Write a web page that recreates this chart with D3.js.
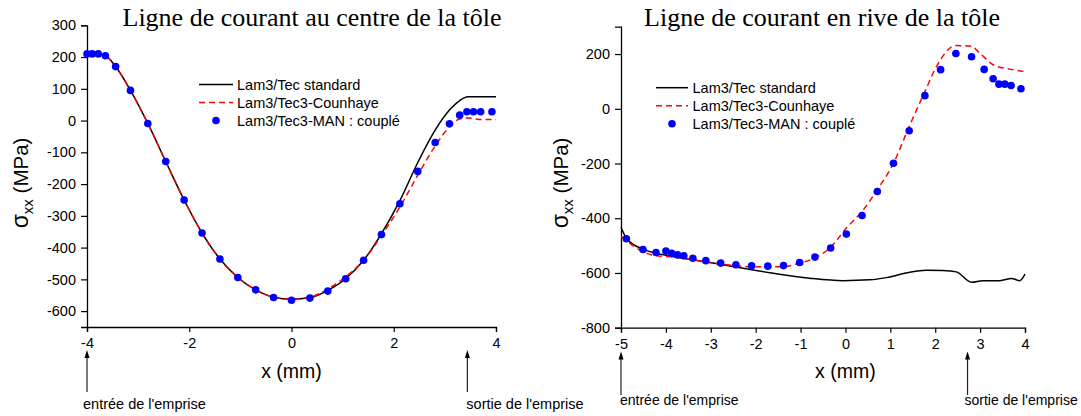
<!DOCTYPE html>
<html><head><meta charset="utf-8">
<script src="https://cdn.jsdelivr.net/npm/d3@7"></script>
<style>
body{margin:0;background:#fff;}
svg{display:block;}
text{font-family:Arial,"Liberation Sans",sans-serif;fill:#000;}
</style></head>
<body>
<svg id="chart" width="1081" height="416"></svg>
<script>
// ---------- Data: left panel (centre) ----------
const titleLeft = "Ligne de courant au centre de la tôle";
const titleRight = "Ligne de courant en rive de la tôle";
const legendLabels = ["Lam3/Tec standard", "Lam3/Tec3-Counhaye", "Lam3/Tec3-MAN : couplé"];

const leftXTicks = [-4, -2, 0, 2, 4];
const leftYTicks = [-600, -500, -400, -300, -200, -100, 0, 100, 200, 300];

const leftLineX   = [-4, -3.9, -3.78, -3.64, -3.44, -3.15, -2.81, -2.46, -2.10, -1.75, -1.40, -1.05, -0.70, -0.35, 0, 0.36, 0.71, 1.06, 1.41, 1.76, 2.12, 2.47, 2.81, 3.09, 3.29, 3.45, 3.7, 4.0];
const leftStandard = [210, 210, 208, 204, 170, 95, -9, -129, -250, -354, -436, -494, -533, -556, -562, -558, -535, -498, -440, -356, -252, -132, -30, 33, 63, 75, 75, 75];
const leftCounhaye = [210, 210, 208, 204, 170, 95, -9, -129, -250, -354, -436, -494, -533, -556, -562, -556, -530, -492, -440, -362, -272, -172, -80, -20, 5, 8, 3, 3];

const leftManX = [-4.0, -3.90, -3.78, -3.64, -3.44, -3.15, -2.81, -2.46, -2.10, -1.75, -1.40, -1.05, -0.70, -0.35, 0.0, 0.36, 0.71, 1.06, 1.41, 1.76, 2.12, 2.47, 2.81, 3.09, 3.29, 3.43, 3.56, 3.70, 3.92];
const leftManY = [210, 210, 210, 204, 170, 95, -9, -129, -250, -354, -436, -494, -533, -557, -566, -559, -537, -498, -440, -359, -262, -160, -69, -10, 17, 28, 28, 28, 28];

// ---------- Data: right panel (rive) ----------
const rightXTicks = [-5, -4, -3, -2, -1, 0, 1, 2, 3, 4];
const rightYTicks = [-800, -600, -400, -200, 0, 200];

const rightStdX = [-5, -4.88, -4.51, -4.22, -3.77, -3.02, -2.28, -1.54, -0.80, -0.05, 0.54, 0.91, 1.43, 1.80, 2.17, 2.47, 2.81, 3.06, 3.44, 3.70, 3.88, 4.0];
const rightStdY = [-433, -473, -513, -528, -542, -562, -583, -603, -619, -628, -625, -617, -597, -590, -591, -596, -634, -628, -628, -620, -628, -604];

const rightCouX = [-4.99, -4.51, -4.22, -3.77, -3.40, -2.78, -2.09, -1.38, -1.02, -0.68, -0.33, 0.02, 0.37, 0.71, 1.07, 1.42, 1.77, 2.03, 2.46, 2.81, 2.99, 3.29, 3.66, 4.0];
const rightCouY = [-467, -522, -537, -542, -552, -567, -577, -577, -564, -545, -506, -436, -375, -296, -199, -65, 63, 155, 231, 228, 204, 161, 145, 136];

const rightManX = [-4.88, -4.51, -4.22, -4.00, -3.87, -3.74, -3.60, -3.40, -3.11, -2.78, -2.44, -2.09, -1.73, -1.38, -1.02, -0.68, -0.33, 0.02, 0.37, 0.71, 1.07, 1.42, 1.77, 2.12, 2.46, 2.81, 3.09, 3.29, 3.42, 3.55, 3.69, 3.91];
const rightManY = [-475, -514, -525, -520, -528, -534, -537, -546, -555, -564, -570, -574, -575, -573, -562, -542, -509, -458, -390, -302, -199, -80, 48, 143, 202, 190, 144, 110, 90, 90, 85, 73];

const annotEntree = "entrée de l'emprise";
const annotSortie = "sortie de l'emprise";

// ---------- Drawing ----------
const svg = d3.select("#chart");

function zip(xs, ys){ return xs.map((x,i)=>[x, ys[i]]); }

function panel(cfg){
  const g = svg.append("g");
  const x = d3.scaleLinear().domain(cfg.xDomain).range([cfg.left, cfg.right]);
  const y = d3.scaleLinear().domain(cfg.yDomain).range([cfg.bottom, cfg.top]);

  // title
  g.append("text").attr("x", cfg.titleX).attr("y", 26)
    .attr("text-anchor","middle")
    .style("font-family","'Liberation Serif','Times New Roman',serif")
    .style("font-size","26px").text(cfg.title);

  // minor ticks
  const xAxisG = g.append("g").attr("transform",`translate(0,${cfg.bottom})`);
  xAxisG.call(d3.axisBottom(x).tickValues(cfg.xMinor).tickSize(3).tickFormat(""));
  xAxisG.call(d3.axisBottom(x).tickValues(cfg.xTicks).tickSize(5).tickPadding(6).tickFormat(d3.format("d")));
  const yAxisG = g.append("g").attr("transform",`translate(${cfg.left},0)`);
  yAxisG.call(d3.axisLeft(y).tickValues(cfg.yMinor).tickSize(3.5).tickFormat(""));
  yAxisG.call(d3.axisLeft(y).tickValues(cfg.yTicks).tickSize(6).tickPadding(5).tickFormat(d3.format("d")));
  g.selectAll(".domain").attr("stroke","#000").attr("stroke-width",1.3);
  g.selectAll(".tick line").attr("stroke","#000").attr("stroke-width",1.2);
  g.selectAll(".tick text").style("font-family","Arial,'Liberation Sans',sans-serif").style("font-size","14.5px").attr("fill","#000");
  xAxisG.selectAll(".tick text").text(function(){ return this.textContent.replace("−","-"); });
  yAxisG.selectAll(".tick text").text(function(){ return this.textContent.replace("−","-"); });

  // axis labels
  g.append("text").attr("x", x(0)).attr("y", 378).attr("text-anchor","middle")
    .style("font-size","19.5px").text("x (mm)");
  const yl = g.append("text").attr("transform",`translate(${cfg.yLabelX},183) rotate(-90)`)
    .attr("text-anchor","middle").style("font-size","20.5px");
  yl.append("tspan").style("font-size","23px").text("σ");
  yl.append("tspan").attr("dy", 5).style("font-size","15px").text("xx");
  yl.append("tspan").attr("dy", -5).text(" (MPa)");

  const line = d3.line().x(d=>x(d[0])).y(d=>y(d[1])).curve(d3.curveMonotoneX);
  g.append("path").datum(cfg.std).attr("d", line).attr("fill","none")
    .attr("stroke","#000").attr("stroke-width",1.5);
  g.append("path").datum(cfg.cou).attr("d", line).attr("fill","none")
    .attr("stroke","#ff0000").attr("stroke-width",1.5).attr("stroke-dasharray","6,4");
  g.selectAll("circle.man").data(cfg.man).enter().append("circle").attr("class","man")
    .attr("cx", d=>x(d[0])).attr("cy", d=>y(d[1])).attr("r",3.8).attr("fill","#0000ff");

  // legend
  const L = cfg.legend;
  g.append("line").attr("x1",L.x1).attr("x2",L.x2).attr("y1",L.y0).attr("y2",L.y0)
    .attr("stroke","#000").attr("stroke-width",1.5);
  g.append("line").attr("x1",L.x1).attr("x2",L.x2).attr("y1",L.y0+18).attr("y2",L.y0+18)
    .attr("stroke","#ff0000").attr("stroke-width",1.5).attr("stroke-dasharray","6,4");
  g.append("circle").attr("cx",(L.x1+L.x2)/2).attr("cy",L.y0+36).attr("r",3.8).attr("fill","#0000ff");
  legendLabels.forEach((t,i)=>{
    g.append("text").attr("x",L.tx).attr("y",L.y0+5.5+i*18).style("font-size","14.5px").text(t);
  });

  // arrows and annotations
  [[cfg.entreeX, annotEntree, cfg.entreeTx],[cfg.sortieX, annotSortie, cfg.sortieTx]].forEach(a=>{
    const ax = x(a[0]);
    g.append("line").attr("x1",ax).attr("x2",ax).attr("y1",cfg.arrowBottom).attr("y2",cfg.arrowTop+7)
      .attr("stroke","#222").attr("stroke-width",1.2);
    g.append("path").attr("d",`M${ax},${cfg.arrowTop} L${ax-2.5},${cfg.arrowTop+8} L${ax+2.5},${cfg.arrowTop+8} Z`).attr("fill","#000");
    g.append("text").attr("x", ax + a[2]).attr("y", cfg.annotY).style("font-size", cfg.annotSize).text(a[1]);
  });
}

panel({
  title: titleLeft, titleX: 312,
  xDomain:[-4,4], yDomain:[-650,300],
  left:87, right:496, top:25.3, bottom:327,
  xTicks:leftXTicks, xMinor:[-3,-1,1,3],
  yTicks:leftYTicks, yMinor:[-650,-550,-450,-350,-250,-150,-50,50,150,250],
  yLabelX: 28,
  std: zip(leftLineX, leftStandard), cou: zip(leftLineX, leftCounhaye), man: zip(leftManX, leftManY),
  legend:{x1:199, x2:233, y0:84.5, tx:237},
  entreeX:-4, sortieX:3.44, entreeTx:-4, sortieTx:-1,
  arrowTop:350, arrowBottom:392, annotY:409, annotSize:"14.5px"
});

panel({
  title: titleRight, titleX: 822,
  xDomain:[-5,4], yDomain:[-800,300],
  left:621, right:1025, top:26.7, bottom:327.7,
  xTicks:rightXTicks, xMinor:[-4.5,-3.5,-2.5,-1.5,-0.5,0.5,1.5,2.5,3.5],
  yTicks:rightYTicks, yMinor:[-700,-500,-300,-100,100,300],
  yLabelX: 568,
  std: zip(rightStdX, rightStdY), cou: zip(rightCouX, rightCouY), man: zip(rightManX, rightManY),
  legend:{x1:656, x2:688, y0:87.7, tx:692.5},
  entreeX:-5, sortieX:2.72, entreeTx:-1, sortieTx:-3,
  arrowTop:351.5, arrowBottom:395, annotY:404.5, annotSize:"14px"
});
</script>
</body></html>
